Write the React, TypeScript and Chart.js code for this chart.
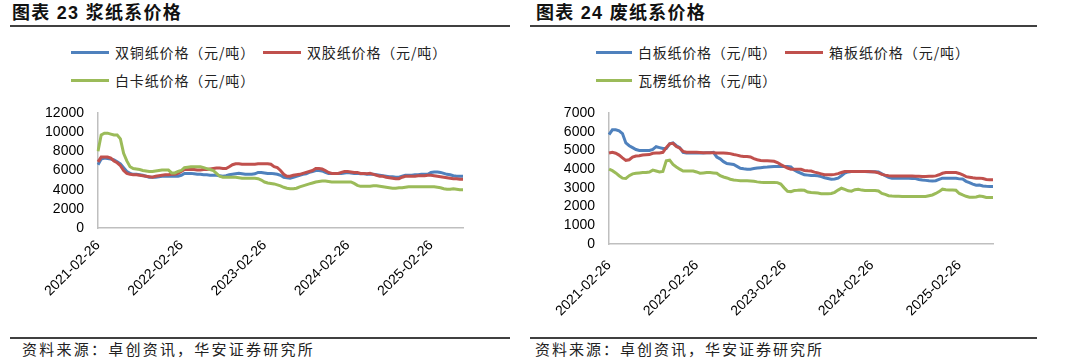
import React, { useEffect, useLayoutEffect, useRef, useState } from "react";
import { Chart, registerables } from "chart.js";

Chart.register(...registerables);

// ---------- data ----------
const START_DATE = "2021-02-26";
const STEP_DAYS = 14;
const POINT_COUNT = 115;
const TICK_LABELS = ["2021-02-26", "2022-02-26", "2023-02-26", "2024-02-26", "2025-02-26"];

// 浆纸系
const PULP_COATED = [6600,7200,7300,7250,7200,7100,6900,6700,6300,5900,
  5700,5600,5600,5550,5500,5400,5300,5300,5300,5350,
  5400,5400,5400,5400,5400,5400,5500,5700,5700,5700,
  5650,5600,5600,5550,5550,5500,5500,5500,5450,5400,
  5450,5550,5600,5650,5700,5650,5600,5600,5600,5650,
  5800,5800,5750,5700,5700,5650,5600,5500,5300,5250,
  5200,5300,5400,5500,5600,5650,5800,5900,6000,6000,
  5950,5800,5700,5700,5700,5700,5700,5750,5800,5750,
  5700,5700,5650,5650,5600,5600,5600,5550,5500,5450,
  5400,5350,5350,5300,5300,5400,5500,5500,5500,5550,
  5550,5600,5600,5600,5800,5850,5850,5800,5700,5600,
  5550,5450,5400,5400,5400];
const PULP_OFFSET = [6900,7400,7400,7400,7300,7000,6800,6500,6000,5700,
  5600,5550,5550,5500,5450,5400,5350,5300,5400,5450,
  5500,5550,5550,5600,5600,5700,5900,6100,6100,6100,
  6100,6050,6050,6100,6100,6150,6200,6250,6250,6200,
  6200,6400,6600,6700,6700,6650,6650,6650,6650,6650,
  6700,6700,6700,6700,6650,6400,6300,6000,5600,5400,
  5400,5500,5550,5600,5700,5800,5900,6000,6200,6200,
  6150,6000,5800,5700,5700,5700,5800,5900,5900,5850,
  5800,5800,5700,5700,5650,5700,5600,5500,5400,5400,
  5300,5250,5200,5150,5150,5300,5400,5400,5400,5400,
  5450,5450,5450,5500,5500,5450,5400,5350,5300,5250,
  5200,5150,5150,5100,5100];
const PULP_IVORY = [8000,9700,9900,9900,9800,9700,9700,9300,7800,7000,
  6400,6200,6150,6100,6000,5950,5900,5900,5950,6000,
  6050,6050,6050,5750,5750,5900,6000,6300,6350,6400,
  6400,6400,6400,6300,6200,6100,6000,5700,5400,5300,
  5300,5300,5300,5300,5250,5200,5200,5200,5200,5200,
  5150,5000,4800,4700,4650,4600,4500,4400,4250,4150,
  4100,4100,4150,4300,4400,4500,4600,4700,4800,4850,
  4900,4900,4850,4800,4800,4800,4800,4800,4800,4800,
  4650,4450,4350,4350,4350,4350,4400,4400,4350,4300,
  4250,4200,4150,4150,4200,4200,4250,4300,4300,4300,
  4300,4300,4300,4300,4300,4300,4250,4200,4100,4050,
  4050,4100,4050,4000,4000];

// 废纸系
const WASTE_WHITE = [5840,6100,6100,6050,5900,5400,5250,5150,5050,5000,
  5000,5000,5000,5050,5200,5150,5100,5100,5350,5400,
  5250,5150,4900,4860,4860,4860,4860,4860,4860,4870,
  4880,4900,4650,4550,4400,4300,4280,4250,4150,4050,
  4020,4000,4000,4030,4060,4080,4100,4110,4130,4140,
  4140,4140,4140,4140,4120,3950,3850,3780,3700,3680,
  3660,3660,3650,3600,3540,3500,3460,3470,3520,3650,
  3790,3850,3870,3870,3880,3880,3870,3860,3860,3860,
  3850,3750,3650,3560,3520,3520,3520,3520,3520,3510,
  3500,3500,3450,3420,3400,3380,3370,3380,3450,3520,
  3520,3520,3520,3510,3480,3470,3350,3280,3200,3140,
  3150,3100,3080,3070,3070];
const WASTE_BOX = [4860,4900,4850,4750,4600,4470,4500,4640,4700,4720,
  4760,4770,4780,4850,4860,4860,4900,5150,5350,5380,
  5210,5120,4950,4900,4900,4900,4900,4890,4880,4880,
  4880,4870,4860,4860,4860,4850,4830,4780,4750,4700,
  4680,4680,4650,4560,4500,4460,4450,4450,4440,4420,
  4350,4240,4150,4060,4000,4000,4000,3990,3930,3910,
  3900,3840,3800,3750,3700,3700,3700,3720,3760,3820,
  3870,3870,3870,3870,3870,3870,3870,3870,3860,3850,
  3800,3720,3680,3650,3640,3640,3640,3640,3640,3640,
  3630,3620,3620,3610,3610,3620,3620,3640,3700,3780,
  3820,3820,3820,3820,3770,3700,3600,3570,3540,3520,
  3520,3500,3450,3430,3430];
const WASTE_CORR = [4000,3920,3800,3650,3520,3500,3650,3750,3780,3800,
  3820,3820,3850,3950,3900,3850,3880,4450,4480,4250,
  4120,4000,3900,3900,3900,3900,3850,3780,3800,3820,
  3820,3800,3780,3650,3580,3530,3460,3420,3400,3380,
  3380,3380,3370,3350,3320,3300,3290,3290,3290,3290,
  3280,3200,3000,2820,2800,2860,2870,2890,2870,2780,
  2750,2740,2720,2690,2680,2680,2700,2760,2880,2980,
  2920,2840,2820,2900,2920,2880,2860,2860,2860,2860,
  2830,2700,2650,2580,2560,2550,2550,2540,2540,2540,
  2540,2540,2540,2540,2540,2580,2620,2700,2800,2930,
  2900,2890,2890,2870,2700,2620,2550,2500,2500,2510,
  2560,2540,2490,2480,2480];

const PULP_NAMES = ["双铜纸价格（元/吨）", "双胶纸价格（元/吨）", "白卡纸价格（元/吨）"];
const WASTE_NAMES = ["白板纸价格（元/吨）", "箱板纸价格（元/吨）", "瓦楞纸价格（元/吨）"];
const COLORS = ["#4F81BD", "#C0504D", "#9BBB59"];

// ---------- derived ----------
function fmtDate(d: Date) {
  const m = String(d.getUTCMonth() + 1).padStart(2, "0");
  const day = String(d.getUTCDate()).padStart(2, "0");
  return `${d.getUTCFullYear()}-${m}-${day}`;
}
const startMs = Date.parse(START_DATE + "T00:00:00Z");
const CATEGORIES = Array.from({ length: POINT_COUNT }, (_, i) =>
  fmtDate(new Date(startMs + i * STEP_DAYS * 86400000))
);
const TICK_AT: Record<number, string> = {};
TICK_LABELS.forEach((lab) => {
  const t = Date.parse(lab + "T00:00:00Z");
  let best = 0;
  let bestD = Infinity;
  CATEGORIES.forEach((c, i) => {
    const d = Math.abs(Date.parse(c + "T00:00:00Z") - t);
    if (d < bestD) { bestD = d; best = i; }
  });
  TICK_AT[best] = lab;
});

const AXIS_FONT = { family: '"Liberation Sans", Arial, sans-serif', size: 14 };

type Geo = {
  left: number; top: number; width: number; height: number;
  yAxisW: number; xAxisH: number; padTop: number; padRight: number; xPad: number;
};

function PriceChart({ series, yMax, yStep, geo }: { series: { name: string; data: number[]; color: string }[]; yMax: number; yStep: number; geo: Geo }) {
  const ref = useRef<HTMLCanvasElement>(null);
  useEffect(() => {
    const chart = new Chart(ref.current as HTMLCanvasElement, {
      type: "line",
      data: {
        labels: CATEGORIES,
        datasets: series.map((s, k) => ({
          label: s.name,
          data: s.data,
          borderColor: s.color,
          backgroundColor: s.color,
          borderWidth: 3,
          pointRadius: 0,
          tension: 0,
          fill: false,
          order: series.length - k,
        })),
      },
      options: {
        responsive: false,
        animation: false,
        events: [],
        layout: { padding: { top: geo.padTop, right: geo.padRight, left: 0, bottom: 0 } },
        plugins: { legend: { display: false }, tooltip: { enabled: false } },
        scales: {
          x: {
            type: "category",
            grid: { display: false, drawTicks: false },
            border: { display: true, color: "#BFBFBF", width: 1.5 },
            ticks: {
              autoSkip: false,
              minRotation: 45,
              maxRotation: 45,
              padding: geo.xPad,
              color: "#000",
              font: AXIS_FONT,
              callback: (_v: any, i: number) => (TICK_AT[i] !== undefined ? TICK_AT[i] : null),
            },
            afterFit: (s: any) => {
              s.height = geo.xAxisH;
              s.paddingLeft = 0;
              s.paddingRight = 0;
            },
          },
          y: {
            min: 0,
            max: yMax,
            grid: { display: false, drawTicks: false },
            border: { display: true, color: "#BFBFBF", width: 1.5 },
            ticks: {
              stepSize: yStep,
              autoSkip: false,
              padding: 14,
              color: "#000",
              font: AXIS_FONT,
              callback: (v: any) => String(v),
            },
            afterFit: (s: any) => {
              s.width = geo.yAxisW;
              s.paddingTop = 0;
              s.paddingBottom = 0;
            },
          },
        },
      } as any,
    });
    return () => chart.destroy();
  }, []);
  return (
    <canvas
      ref={ref}
      width={geo.width}
      height={geo.height}
      style={{ position: "absolute", left: geo.left, top: geo.top, width: geo.width, height: geo.height }}
    />
  );
}

const CJK = '"Noto Sans CJK SC", sans-serif';

// Text whose letter-spacing is tuned so that it spans the given width (as in the source layout)
function FitText({ text, x, y, h, width, style }: { text: string; x: number; y: number; h: number; width: number; style: React.CSSProperties }) {
  const ref = useRef<HTMLDivElement>(null);
  const [ls, setLs] = useState<number | null>(null);
  useLayoutEffect(() => {
    if (ls !== null || !ref.current) return;
    const natural = ref.current.getBoundingClientRect().width;
    const n = Array.from(text).length;
    setLs((width - natural) / n);
  }, [ls, text, width]);
  return (
    <div
      ref={ref}
      style={{
        position: "absolute", left: x, top: y - h / 2, height: h, lineHeight: h + "px",
        whiteSpace: "nowrap", letterSpacing: (ls ?? 0) + "px", ...style,
      }}
    >
      {text}
    </div>
  );
}

function LegendItem({ x, y, lineW, color, text, textW }: { x: number; y: number; lineW: number; color: string; text: string; textW: number }) {
  return (
    <>
      <div style={{ position: "absolute", left: x, top: y - 1.5, width: lineW, height: 3, background: color }} />
      <FitText text={text} x={x + lineW + 6} y={y} h={18} width={textW}
        style={{ fontFamily: CJK, fontSize: 14, color: "#222" }} />
    </>
  );
}

function Title({ x, num, text }: { x: number; num: string; text: string }) {
  return (
    <FitText text={"图表 " + num + " " + text} x={x} y={13} h={22} width={170}
      style={{ fontFamily: '"Liberation Sans", "Noto Sans CJK SC", sans-serif', fontWeight: "bold", fontSize: 18, color: "#111" }} />
  );
}

function Rule({ x1, x2, y }: { x1: number; x2: number; y: number }) {
  return <div style={{ position: "absolute", left: x1, top: y, width: x2 - x1, height: 1.5, background: "#404040" }} />;
}

function Source({ x, w }: { x: number; w: number }) {
  return (
    <FitText text="资料来源：卓创资讯，华安证券研究所" x={x} y={349} h={20} width={w}
      style={{ fontFamily: CJK, fontSize: 15, color: "#222" }} />
  );
}

export default function App() {
  const pulpSeries = [PULP_COATED, PULP_OFFSET, PULP_IVORY].map((d, i) => ({ name: PULP_NAMES[i], data: d, color: COLORS[i] }));
  const wasteSeries = [WASTE_WHITE, WASTE_BOX, WASTE_CORR].map((d, i) => ({ name: WASTE_NAMES[i], data: d, color: COLORS[i] }));
  return (
    <div style={{ position: "absolute", left: 0, top: 0, width: 1080, height: 361, background: "#fff", overflow: "hidden" }}>
      <Title x={12} num="23" text="浆纸系价格" />
      <Rule x1={10} x2={510} y={25} />
      <Title x={536} num="24" text="废纸系价格" />
      <Rule x1={530} x2={1037} y={25} />

      <LegendItem x={71} y={52} lineW={38} color={COLORS[0]} text={PULP_NAMES[0]} textW={140} />
      <LegendItem x={263} y={52} lineW={38} color={COLORS[1]} text={PULP_NAMES[1]} textW={140} />
      <LegendItem x={71} y={80} lineW={38} color={COLORS[2]} text={PULP_NAMES[2]} textW={140} />

      <LegendItem x={596} y={52} lineW={36} color={COLORS[0]} text={WASTE_NAMES[0]} textW={139} />
      <LegendItem x={785} y={52} lineW={38} color={COLORS[1]} text={WASTE_NAMES[1]} textW={141} />
      <LegendItem x={596} y={80} lineW={36} color={COLORS[2]} text={WASTE_NAMES[2]} textW={139} />

      <PriceChart series={pulpSeries} yMax={12000} yStep={2000}
        geo={{ left: 10, top: 100, width: 500, height: 215, yAxisW: 88, xAxisH: 87, padTop: 13, padRight: 47, xPad: 9 }} />
      <PriceChart series={wasteSeries} yMax={7000} yStep={1000}
        geo={{ left: 530, top: 100, width: 500, height: 230, yAxisW: 79, xAxisH: 86, padTop: 13, padRight: 37, xPad: 13 }} />

      <Rule x1={10} x2={510} y={337} />
      <Source x={22} w={293} />
      <Rule x1={530} x2={1037} y={337} />
      <Source x={535} w={289} />
    </div>
  );
}
